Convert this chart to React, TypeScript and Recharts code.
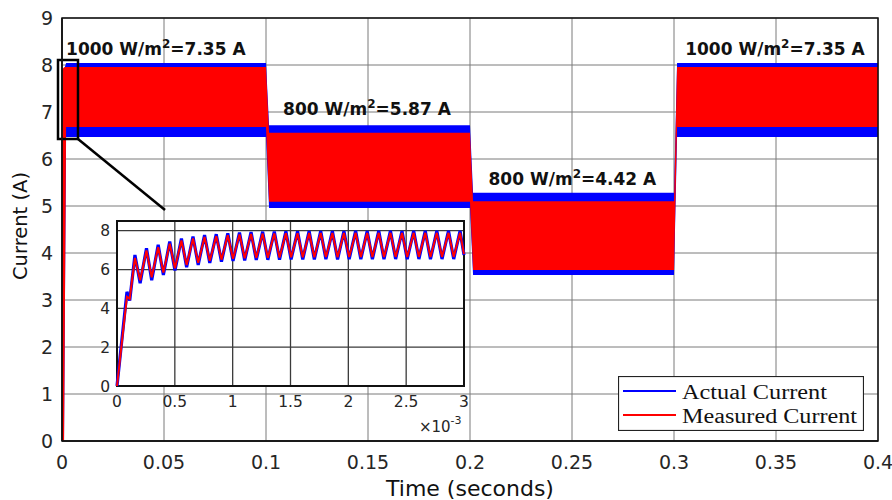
import React from 'react';
import {
  ComposedChart,
  LineChart,
  Line,
  Area,
  XAxis,
  YAxis,
  CartesianGrid,
  ReferenceArea,
  ReferenceLine,
  ReferenceDot,
  Legend,
} from 'recharts';

// ---------- main chart envelope (0 - 0.4 s) ----------
const envTime = [0, 0.001, 0.002, 0.1, 0.1015, 0.2, 0.2015, 0.3, 0.3015, 0.4];
const actualHigh = [7.8, 7.9, 8.04, 8.04, 6.72, 6.72, 5.28, 5.28, 8.04, 8.04];
const actualLow = [0, 0, 6.47, 6.47, 4.96, 4.96, 3.53, 3.53, 6.47, 6.47];
const measuredHigh = [7.9, 7.95, 7.96, 7.96, 6.56, 6.56, 5.1, 5.1, 7.96, 7.96];
const measuredLow = [0, 0, 6.68, 6.68, 5.09, 5.09, 3.64, 3.64, 6.68, 6.68];

const mainXTicks = [0, 0.05, 0.1, 0.15, 0.2, 0.25, 0.3, 0.35, 0.4];
const mainYTicks = [0, 1, 2, 3, 4, 5, 6, 7, 8, 9];

// annotations: irradiance / current, anchored in data space
const annoTime = [0.046, 0.1495, 0.2502, 0.3495];
const annoLevel = [8.21, 6.94, 5.45, 8.21];
const annoIrr = ['1000', '800', '800', '1000'];
const annoAmp = ['7.35', '5.87', '4.42', '7.35'];

// ---------- inset (0 - 3 x10^-3 s) ----------
const insetTime = [0, 0.086, 0.11, 0.155, 0.2, 0.255, 0.3, 0.356, 0.401, 0.456, 0.501, 0.557, 0.602, 0.657, 0.702, 0.757, 0.802, 0.858, 0.903, 0.958, 1.003, 1.059, 1.104, 1.159, 1.204, 1.259, 1.304, 1.36, 1.405, 1.46, 1.505, 1.561, 1.606, 1.661, 1.706, 1.761, 1.806, 1.862, 1.907, 1.962, 2.007, 2.063, 2.108, 2.163, 2.208, 2.263, 2.308, 2.364, 2.409, 2.464, 2.509, 2.565, 2.61, 2.665, 2.71, 2.765, 2.81, 2.866, 2.911, 2.966, 3.0];
const insetActual = [0, 4.85, 4.4, 6.75, 5.3, 7.1, 5.45, 7.27, 5.72, 7.44, 5.95, 7.6, 6.12, 7.7, 6.24, 7.78, 6.34, 7.82, 6.4, 7.87, 6.44, 7.9, 6.47, 7.93, 6.49, 7.95, 6.5, 7.96, 6.51, 7.97, 6.52, 7.97, 6.52, 7.98, 6.52, 7.98, 6.53, 7.98, 6.52, 7.98, 6.53, 7.99, 6.53, 7.98, 6.53, 7.99, 6.53, 7.99, 6.54, 7.98, 6.53, 7.99, 6.54, 7.99, 6.53, 7.99, 6.54, 7.99, 6.54, 7.99, 6.75];
const insetMeasured = [0, 4.6, 4.5, 6.6, 5.45, 6.98, 5.6, 7.15, 5.85, 7.33, 6.07, 7.5, 6.23, 7.6, 6.35, 7.68, 6.45, 7.72, 6.51, 7.77, 6.55, 7.8, 6.58, 7.83, 6.6, 7.85, 6.61, 7.86, 6.62, 7.87, 6.63, 7.87, 6.63, 7.88, 6.63, 7.88, 6.64, 7.88, 6.63, 7.88, 6.64, 7.89, 6.64, 7.88, 6.64, 7.89, 6.64, 7.89, 6.65, 7.88, 6.64, 7.89, 6.65, 7.89, 6.64, 7.89, 6.65, 7.89, 6.65, 7.89, 6.8];

const insetXTicks = [0, 0.5, 1, 1.5, 2, 2.5, 3];
const insetYTicks = [0, 2, 4, 6, 8];

const seriesNames = ['Actual Current', 'Measured Current'];

const mainData = envTime.map((t, i) => ({
  t,
  actual: [actualLow[i], actualHigh[i]],
  measured: [measuredLow[i], measuredHigh[i]],
}));

const insetData = insetTime.map((t, i) => ({
  t,
  actual: insetActual[i],
  measured: insetMeasured[i],
}));

const SANS = 'DejaVu Sans';
const TICK_COLOR = '#262626';

const LegendBox = () => (
  <svg width={246} height={55} style={{ display: 'block' }}>
    <rect x={0.5} y={0.5} width={245} height={54} fill="#fff" stroke="#222" strokeWidth={1.2} />
    <line x1={5} x2={58} y1={15} y2={15} stroke="#0000ff" strokeWidth={2} />
    <line x1={5} x2={58} y1={39} y2={39} stroke="#ff0000" strokeWidth={2} />
    <text x={64} y={23} fontFamily="Liberation Serif" fontSize={20} fill="#111" textLength={145} lengthAdjust="spacingAndGlyphs">
      {seriesNames[0]}
    </text>
    <text x={64} y={47} fontFamily="Liberation Serif" fontSize={20} fill="#111" textLength={175} lengthAdjust="spacingAndGlyphs">
      {seriesNames[1]}
    </text>
  </svg>
);

export default function App() {
  return (
    <div style={{ position: 'absolute', left: 0, top: 0, width: 892, height: 500, background: '#fff', overflow: 'hidden' }}>
      <ComposedChart
        width={892}
        height={500}
        data={mainData}
        margin={{ top: 18, right: 14, left: 2, bottom: 29 }}
      >
        <CartesianGrid stroke="#7a7a7a" strokeWidth={1} />
        <XAxis
          type="number"
          dataKey="t"
          domain={[0, 0.4]}
          ticks={mainXTicks}
          tickFormatter={(v: number) => String(v)}
          height={30}
          tickSize={7}
          tickMargin={8}
          tickLine={false}
          stroke="#111"
          strokeWidth={1.5}
          tick={{ fontFamily: SANS, fontSize: 19, fill: TICK_COLOR }}
          label={{
            content: (p: any) => {
              const vb = p.viewBox || {};
              return (
                <text x={vb.x + vb.width / 2} y={496} textAnchor="middle" fontFamily={SANS} fontSize={22} fill="#111">
                  Time (seconds)
                </text>
              );
            },
          }}
        />
        <YAxis
          type="number"
          domain={[0, 9]}
          ticks={mainYTicks}
          width={60}
          tickSize={7}
          tickMargin={2}
          tickLine={false}
          stroke="#111"
          strokeWidth={1.5}
          tick={{ fontFamily: SANS, fontSize: 19, fill: TICK_COLOR }}
          label={{
            content: () => (
              <text
                x={0}
                y={0}
                transform="translate(27,226) rotate(-90)"
                textAnchor="middle"
                fontFamily={SANS}
                fontSize={19.5}
                fill="#111"
              >
                Current (A)
              </text>
            ),
          }}
        />
        <Area
          dataKey="actual"
          type="linear"
          stroke="none"
          fill="#0000ff"
          fillOpacity={1}
          isAnimationActive={false}
          name={seriesNames[0]}
        />
        <Area
          dataKey="measured"
          type="linear"
          stroke="none"
          fill="#ff0000"
          fillOpacity={1}
          isAnimationActive={false}
          name={seriesNames[1]}
        />
        <ReferenceArea x1={0} x2={0.4} y1={0} y2={9} fill="none" stroke="#111" strokeWidth={1.5} ifOverflow="visible" />
        <ReferenceArea
          x1={-0.00196}
          x2={0.00784}
          y1={6.426}
          y2={8.106}
          fill="none"
          fillOpacity={0}
          stroke="#000"
          strokeWidth={2.5}
          ifOverflow="visible"
        />
        <ReferenceLine
          segment={[
            { x: 0.00784, y: 6.426 },
            { x: 0.0505, y: 4.915 },
          ]}
          stroke="#000"
          strokeWidth={2.5}
          ifOverflow="visible"
        />
        {annoTime.map((t, i) => (
          <ReferenceDot
            key={i}
            x={t}
            y={annoLevel[i]}
            r={0}
            ifOverflow="visible"
            shape={(p: any) => (
              <text x={p.cx} y={p.cy} textAnchor="middle" fontFamily={SANS} fontWeight="bold" fontSize={17} fill="#111">
                {annoIrr[i]} W/m
                <tspan dy={-7} fontSize={12}>2</tspan>
                <tspan dy={7}>={annoAmp[i]} A</tspan>
              </text>
            )}
          />
        ))}
        <Legend
          layout="horizontal"
          verticalAlign="middle"
          align="center"
          wrapperStyle={{ position: 'absolute', left: 618, top: 376, width: 246, height: 55 }}
          content={() => <LegendBox />}
        />
      </ComposedChart>

      <div style={{ position: 'absolute', left: 77, top: 211, width: 400, height: 240 }}>
        <LineChart
          width={400}
          height={240}
          data={insetData}
          margin={{ top: 10, right: 13, left: 0, bottom: 35 }}
        >
          <CartesianGrid stroke="#3a3a3a" strokeWidth={1.3} fill="#fff" fillOpacity={1} />
          <XAxis
            type="number"
            dataKey="t"
            domain={[0, 3]}
            ticks={insetXTicks}
            tickFormatter={(v: number) => String(v)}
            height={30}
            tickSize={0}
            tickMargin={10}
            axisLine={false}
            tickLine={false}
            tick={{ fontFamily: SANS, fontSize: 15.5, fill: TICK_COLOR }}
          />
          <YAxis
            type="number"
            domain={[0, 8.5]}
            ticks={insetYTicks}
            width={40}
            tickSize={0}
            tickMargin={7}
            axisLine={false}
            tickLine={false}
            tick={{ fontFamily: SANS, fontSize: 15.5, fill: TICK_COLOR }}
          />
          <Line
            dataKey="actual"
            type="linear"
            stroke="#0000ff"
            strokeWidth={3.2}
            dot={false}
            isAnimationActive={false}
          />
          <Line
            dataKey="measured"
            type="linear"
            stroke="#ff0000"
            strokeWidth={2}
            dot={false}
            isAnimationActive={false}
          />
          <ReferenceArea x1={0} x2={3} y1={0} y2={8.5} fill="none" fillOpacity={0} stroke="#111" strokeWidth={2} ifOverflow="visible" />
          <ReferenceDot
            x={2.61}
            y={0}
            r={0}
            ifOverflow="visible"
            shape={(p: any) => (
              <text x={p.cx} y={p.cy + 46} fontFamily={SANS} fontSize={15} fill={TICK_COLOR}>
                ×10
                <tspan dy={-8} fontSize={11}>-3</tspan>
              </text>
            )}
          />
        </LineChart>
      </div>
    </div>
  );
}
